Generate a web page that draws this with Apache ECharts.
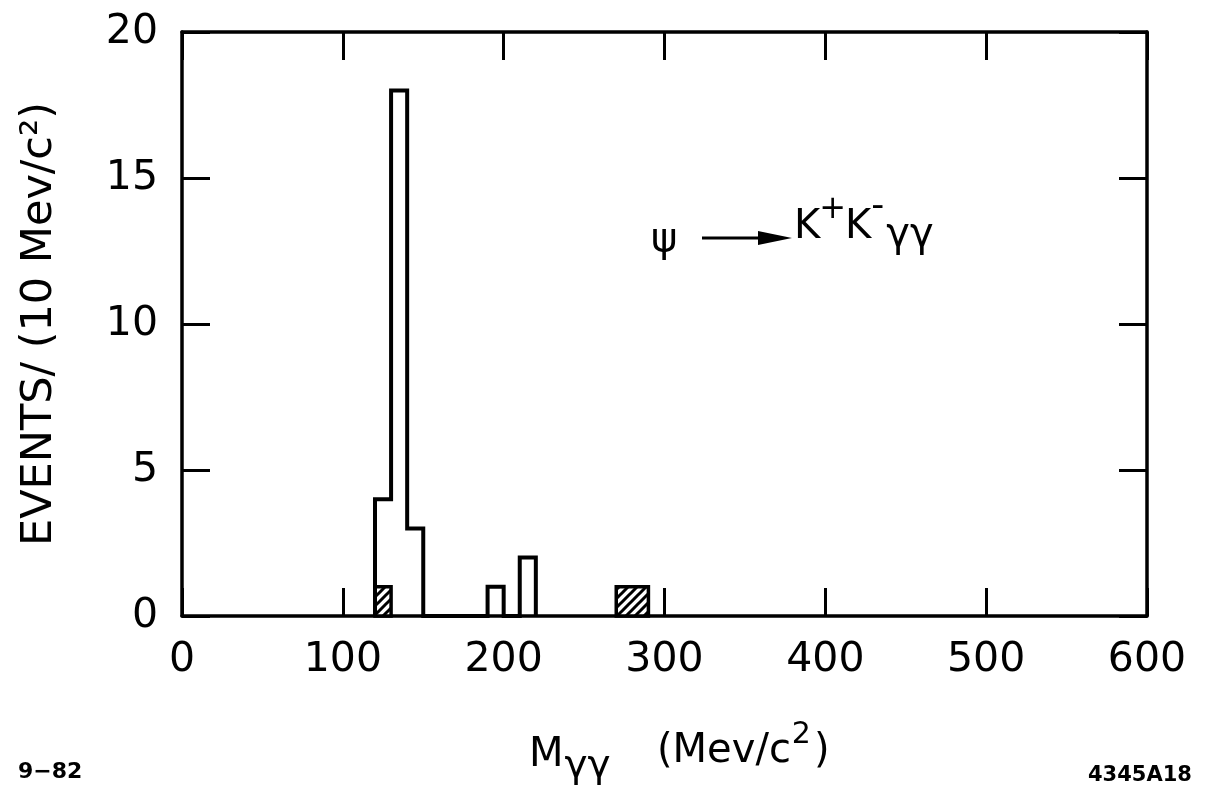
<!DOCTYPE html>
<html>
<head>
<meta charset="utf-8">
<script src="https://cdn.jsdelivr.net/npm/echarts@6/dist/echarts.min.js"></script>
<style>
  html, body { margin: 0; padding: 0; background: #fff; }
  #main { width: 1205px; height: 803px; }
</style>
</head>
<body>
<div id="main"></div>
<script>
// histogram of M(gamma gamma), 10 MeV bins
var binStart = [120, 130, 140, 190, 210]
var binCount = [4, 18, 3, 1, 2]
var binWidth = 10

// shaded entries
var hatchStart = [120, 270]
var hatchEnd = [130, 290]
var hatchCount = [1, 1]

var xTicks = [0, 100, 200, 300, 400, 500, 600]

var FONT = "'DejaVu Sans', 'Liberation Sans', sans-serif"

// build the step outline from the bins
var outline = []
var prevEnd = null
for (var i = 0; i < binStart.length; i++) {
  var s = binStart[i], e = s + binWidth, c = binCount[i]
  if (prevEnd !== s) {
    if (prevEnd !== null) outline.push([prevEnd, 0])
    outline.push([s, 0])
  } else {
    outline.push([s, binCount[i - 1]])
  }
  outline.push([s, c])
  outline.push([e, c])
  prevEnd = e
}
outline.push([prevEnd, 0])

var hatchData = hatchStart.map(function (s, i) { return [s, hatchEnd[i], hatchCount[i]] })

// diagonal hatching pattern
var pat = document.createElement('canvas')
pat.width = 9
pat.height = 9
var ctx = pat.getContext('2d')
ctx.fillStyle = '#fff'
ctx.fillRect(0, 0, 9, 9)
ctx.strokeStyle = '#000'
ctx.lineWidth = 3
ctx.beginPath()
ctx.moveTo(-3, 12); ctx.lineTo(12, -3)
ctx.moveTo(-7, 7); ctx.lineTo(7, -7)
ctx.moveTo(2, 16); ctx.lineTo(16, 2)
ctx.stroke()

// text measuring for the hand-lettered labels
var mctx = document.createElement('canvas').getContext('2d')
function txt(x, y, s, size, extra) {
  var st = { text: s, fontSize: size, fill: '#000', fontFamily: FONT, verticalAlign: 'middle', align: 'left' }
  for (var k in extra) st[k] = extra[k]
  return { type: 'text', x: x, y: y, style: st }
}
// pieces: [text, size, y, gapAfter]
function run(x, pieces) {
  var out = []
  pieces.forEach(function (p) {
    out.push(txt(x, p[2], p[0], p[1]))
    mctx.font = p[1] + "px 'DejaVu Sans'"
    x += mctx.measureText(p[0]).width + (p[3] || 0)
  })
  return out
}

var chart = echarts.init(document.getElementById('main'))

var tickStyle = { show: true, inside: true, length: 28, lineStyle: { color: '#000', width: 3 } }
var lineStyle = { show: true, onZero: false, lineStyle: { color: '#000', width: 3.5 } }

var graphics = [
  txt(651, 241, 'ψ', 40),
  { type: 'line', shape: { x1: 702, y1: 238, x2: 770, y2: 238 }, style: { stroke: '#000', lineWidth: 3 } },
  { type: 'polygon', shape: { points: [[758, 231], [792, 238], [758, 245]] }, style: { fill: '#000' } },
  txt(18, 772, '9−82', 22, { fontWeight: 'bold' }),
  txt(1088, 776, '4345A18', 21, { fontWeight: 'bold' })
]
graphics = graphics.concat(run(794, [
  ['K', 40, 228, -1], ['+', 32, 210, -1], ['K', 40, 228, 0], ['-', 36, 207, 2], ['γγ', 40, 236]
]))
graphics = graphics.concat(run(529, [
  ['M', 40, 756, 1], ['γγ', 39, 767]
]))
graphics = graphics.concat(run(657, [
  ['(Mev/c', 40, 752, 1], ['2', 30, 735, 3], [')', 40, 752]
]))

chart.setOption({
  animation: false,
  backgroundColor: '#fff',
  grid: { left: 182, right: 58, top: 32, bottom: 187 },
  xAxis: [{
    type: 'value', min: 0, max: 600, interval: 100,
    axisLine: lineStyle, axisTick: tickStyle, splitLine: { show: false },
    axisLabel: {
      margin: 24, fontSize: 41, color: '#000', fontFamily: FONT,
      customValues: xTicks
    }
  }, {
    type: 'value', min: 0, max: 600, interval: 100, position: 'top',
    axisLine: lineStyle, axisTick: tickStyle, splitLine: { show: false },
    axisLabel: { show: false }
  }],
  yAxis: [{
    type: 'value', min: 0, max: 20, interval: 5,
    axisLine: lineStyle, axisTick: tickStyle, splitLine: { show: false },
    axisLabel: { margin: 24, fontSize: 41, color: '#000', fontFamily: FONT },
    name: 'EVENTS/ (10 Mev/c²)', nameLocation: 'middle', nameGap: 121,
    nameTextStyle: { fontSize: 43, color: '#000', fontFamily: FONT }
  }, {
    type: 'value', min: 0, max: 20, interval: 5, position: 'right',
    axisLine: lineStyle, axisTick: tickStyle, splitLine: { show: false },
    axisLabel: { show: false }
  }],
  series: [{
    type: 'custom',
    renderItem: function (params, api) {
      var p0 = api.coord([api.value(0), 0])
      var p1 = api.coord([api.value(1), api.value(2)])
      return {
        type: 'rect',
        shape: { x: p0[0], y: p1[1], width: p1[0] - p0[0], height: p0[1] - p1[1] },
        style: { fill: { image: pat, repeat: 'repeat' }, stroke: '#000', lineWidth: 3.5 }
      }
    },
    data: hatchData,
    z: 3
  }, {
    type: 'line',
    data: outline,
    showSymbol: false,
    lineStyle: { color: '#000', width: 4, join: 'miter' },
    z: 4
  }],
  graphic: graphics
})
</script>
</body>
</html>
